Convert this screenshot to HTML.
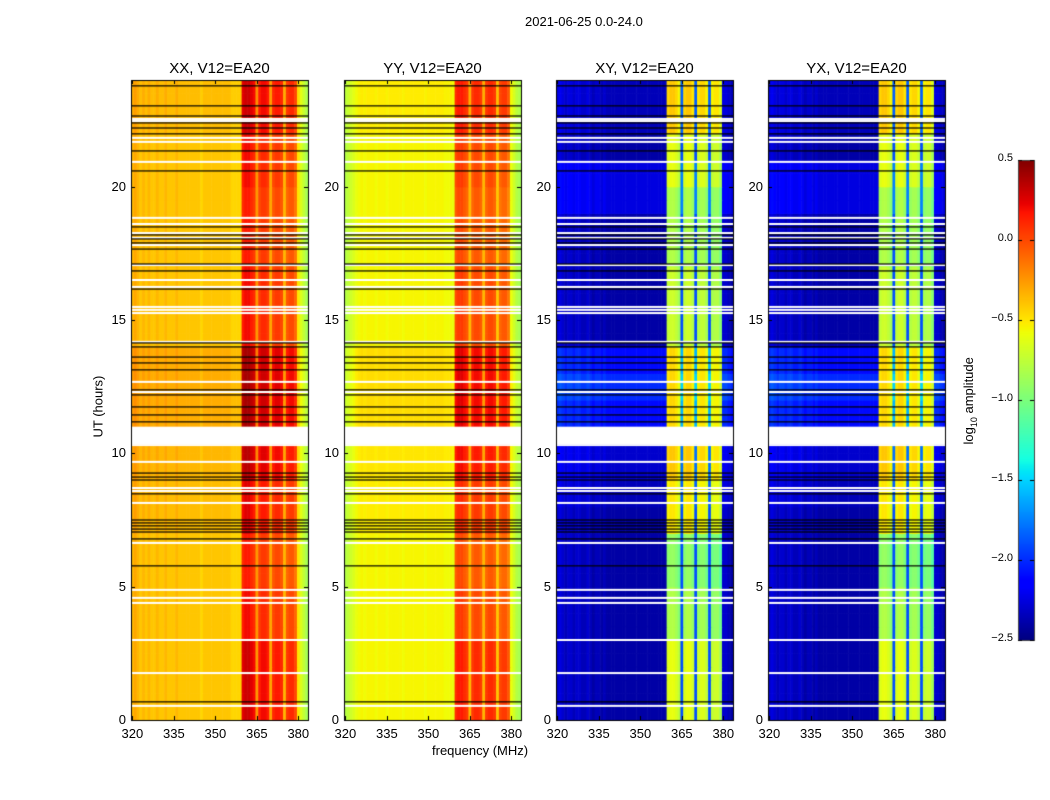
<!DOCTYPE html>
<html><head><meta charset="utf-8">
<style>
body{margin:0;background:#fff;}
#fig{position:relative;width:1050px;height:800px;background:#fff;font-family:"Liberation Sans","DejaVu Sans",sans-serif;color:#000;overflow:hidden;}
.t{position:absolute;white-space:nowrap;font-size:13px;}
canvas{position:absolute;}
</style></head>
<body>
<div id="fig">
<div class="t" style="left:525px;top:14px;">2021-06-25 0.0-24.0</div>
<canvas id="cv" width="1050" height="800" style="left:0;top:0"></canvas>
<div class="t" style="left:432px;top:743px;">frequency (MHz)</div>
<div class="t" style="left:60px;top:392px;transform:rotate(-90deg);transform-origin:center;width:76px;">UT (hours)</div>
<div class="t" style="left:920px;top:392px;transform:rotate(-90deg);width:100px;text-align:center;">log<sub style="font-size:9px">10</sub> amplitude</div>
</div>
<script>
const freqs=[];for(let f=320;f<=383;f++)freqs.push(f);
const subbands=[[360,364],[366,369],[371,374],[376,379]];
const profXX=[-0.35,-0.3,-0.35,-0.4,-0.35,-0.4,-0.35,-0.4,-0.4,-0.35,-0.4,-0.4,-0.35,-0.4,-0.4,-0.4,-0.35,-0.4,-0.4,-0.4,-0.4,-0.4,-0.4,-0.4,-0.4,-0.45,-0.4,-0.4,-0.4,-0.4,-0.4,-0.4,-0.4,-0.4,-0.4,-0.4,-0.45,-0.45,-0.45,-0.45,0.15,0.2,0.2,0.15,0.1,-0.25,0.05,0.1,0.1,0.05,-0.3,0.0,0.05,0.05,0.0,-0.35,-0.05,0.0,0.0,-0.1,-0.5,-0.65,-0.75,-0.85];
const profYY=[-0.8,-0.75,-0.7,-0.65,-0.6,-0.57,-0.55,-0.57,-0.55,-0.55,-0.55,-0.57,-0.55,-0.55,-0.55,-0.57,-0.55,-0.55,-0.55,-0.55,-0.55,-0.57,-0.55,-0.55,-0.55,-0.55,-0.55,-0.55,-0.55,-0.57,-0.55,-0.55,-0.55,-0.55,-0.55,-0.55,-0.57,-0.57,-0.57,-0.6,0.0,0.05,0.05,0.0,-0.05,-0.35,-0.05,0.0,0.0,-0.05,-0.35,-0.05,0.0,0.0,-0.05,-0.4,-0.1,-0.05,-0.05,-0.15,-0.6,-0.7,-0.8,-0.85];
const profXY=[-2.3,-2.25,-2.3,-2.35,-2.3,-2.3,-2.35,-2.3,-2.3,-2.35,-2.35,-2.3,-2.35,-2.4,-2.35,-2.35,-2.4,-2.35,-2.4,-2.4,-2.4,-2.4,-2.4,-2.4,-2.4,-2.4,-2.4,-2.4,-2.4,-2.4,-2.4,-2.4,-2.4,-2.4,-2.4,-2.4,-2.4,-2.4,-2.4,-2.4,-0.85,-0.8,-0.8,-0.85,-0.95,-1.9,-0.85,-0.8,-0.8,-0.9,-1.9,-0.9,-0.85,-0.85,-0.95,-1.9,-0.95,-0.9,-0.9,-1.05,-2.3,-2.3,-2.35,-2.4];
const profYX=[-2.3,-2.25,-2.3,-2.35,-2.3,-2.3,-2.35,-2.3,-2.3,-2.35,-2.35,-2.3,-2.35,-2.4,-2.35,-2.35,-2.4,-2.35,-2.4,-2.4,-2.4,-2.4,-2.4,-2.4,-2.4,-2.4,-2.4,-2.4,-2.4,-2.4,-2.4,-2.4,-2.4,-2.4,-2.4,-2.4,-2.4,-2.4,-2.4,-2.4,-0.85,-0.8,-0.8,-0.85,-0.95,-1.9,-0.85,-0.8,-0.8,-0.9,-1.9,-0.9,-0.85,-0.85,-0.95,-1.9,-0.95,-0.9,-0.9,-1.05,-2.3,-2.3,-2.35,-2.4];
const coSub=[0.1,0.1,0.1,0.1,0.1,0.1,0,0,0,0,-0.05,-0.05,-0.05,-0.05,0.05,0.05,0.05,0.05,0.15,0.15,0.15,0.15,0.2,0.2,0.2,0.2,0.2,0.2,0,0,0,0,0,0,-0.05,-0.05,-0.05,-0.05,-0.05,-0.05,0,0,0,0,0.1,0.1,0.1,0.1];
const coCont=[0,0,0,0,0,0,0,0,0,0,0,0,0,0,0.03,0.03,0.03,0.03,0.05,0.05,0.05,0.05,0.08,0.08,0.08,0.08,0.08,0.08,0,0,0,0,0,0,0,0,0,0,0,0,0,0,0,0,0.03,0.03,0.03,0.03];
const xSub=[0.2,0.2,0.2,0.2,0.2,0.2,0,0,0,0,-0.1,-0.1,-0.1,-0.1,0.3,0.3,0.3,0.3,0.4,0.4,0.4,0.4,0.35,0.35,0.35,0.35,0.35,0.35,0.1,0.1,0.1,0.1,0.1,0.1,0,0,0,0,0,0,0.2,0.2,0.2,0.2,0.4,0.4,0.4,0.4];
const xCont=[0,0,0,0,0,0,0,0,0,0,0,0,0,0,0,0,0.05,0.05,0.1,0.1,0.1,0.1,0.3,0.3,0.4,0.4,0.3,0.3,0,0,0,0,0,0,0,0,0,0,0.15,0.15,0.15,0.15,0,0,0.05,0.05,0.05,0.05];
const flagBlock=[10.35,11.0];
const blackLines=[23.78,23.03,22.65,22.39,22.2,21.98,21.34,20.59,18.49,18.19,18.04,17.89,17.66,17.1,16.84,16.16,14.14,13.99,13.61,13.39,13.13,12.38,12.19,11.74,11.44,11.18,9.26,9.11,9.0,8.48,7.5,7.39,7.28,7.16,7.05,6.79,5.78,0.68];
const whiteLines=[22.54,22.46,21.83,21.68,20.93,18.83,18.6,18.26,18.08,17.81,17.06,16.5,16.24,15.49,15.38,15.26,14.18,12.68,12.3,10.31,9.68,8.7,8.59,8.14,6.64,4.88,4.58,4.39,3.0,1.76,0.53];
const xTicks=[320,335,350,365,380];
const yTicks=[0,5,10,15,20];
const cbTicks=[0.5,0.0,-0.5,-1.0,-1.5,-2.0,-2.5];
const panels=[
 {name:"XX, V12=EA20",left:131,prof:profXX,ts:coSub,tc:coCont},
 {name:"YY, V12=EA20",left:344,prof:profYY,ts:coSub,tc:coCont},
 {name:"XY, V12=EA20",left:556,prof:profXY,ts:xSub,tc:xCont},
 {name:"YX, V12=EA20",left:768,prof:profYX,ts:xSub,tc:xCont}];
const W=177,TOP=80,H=640,VMIN=-2.5,VMAX=0.5;
const xs=f=>(f-320)*W/64, ys=h=>TOP+H-h*H/24;
function interp(pts,v){for(let i=1;i<pts.length;i++){if(v<=pts[i][0]){const a=pts[i-1],b=pts[i];return a[1]+(b[1]-a[1])*(v-a[0])/(b[0]-a[0]);}}return pts[pts.length-1][1];}
function jet(val){let v=(val-VMIN)/(VMAX-VMIN);v=Math.max(0,Math.min(1,v));
 const r=interp([[0,0],[0.35,0],[0.66,1],[0.89,1],[1,0.5]],v),g=interp([[0,0],[0.125,0],[0.375,1],[0.64,1],[0.91,0],[1,0]],v),b=interp([[0,0.5],[0.11,1],[0.34,1],[0.65,0],[1,0]],v);
 return `rgb(${Math.round(r*255)},${Math.round(g*255)},${Math.round(b*255)})`;}
const inSub=f=>subbands.some(s=>f>=s[0]&&f<=s[1]);
const cv=document.getElementById('cv'),ctx=cv.getContext('2d');
const fig=document.getElementById('fig');
function label(txt,x,y,name,align){const d=document.createElement('div');d.className='t';d.textContent=txt;
 d.style.top=(y-8)+'px';
 if(align==='right'){d.style.right=(1050-x)+'px';}else if(align==='center'){d.style.left=(x-30)+'px';d.style.width='60px';d.style.textAlign='center';}else d.style.left=x+'px';
 
 
 fig.appendChild(d);return d;}
panels.forEach((p,pi)=>{
 const L=p.left;
 for(let ti=0;ti<48;ti++){
  const y0=ys((ti+1)*0.5),y1=ys(ti*0.5);
  freqs.forEach((f,ci)=>{
   const v=p.prof[ci]+(inSub(f)?p.ts[ti]:p.tc[ti]);
   ctx.fillStyle=jet(v);
   const x0=L+xs(f);ctx.fillRect(x0,y0,W/64+0.6,y1-y0+0.6);
  });
 }
 ctx.fillStyle='#fff';ctx.fillRect(L,ys(flagBlock[1]),W,ys(flagBlock[0])-ys(flagBlock[1]));
 whiteLines.forEach(h=>{ctx.fillRect(L,ys(h)-1,W,2);});
 ctx.fillStyle='#000';blackLines.forEach(h=>{ctx.fillRect(L,ys(h)-0.6,W,1.2);});
 ctx.strokeStyle='#000';ctx.lineWidth=1;ctx.strokeRect(L+0.5,TOP+0.5,W,H);
 xTicks.forEach(t=>{const x=Math.round(L+xs(t+0.5))+0.5;ctx.beginPath();ctx.moveTo(x,TOP+H);ctx.lineTo(x,TOP+H-4);ctx.moveTo(x,TOP);ctx.lineTo(x,TOP+4);ctx.stroke();
  label(String(t),L+xs(t+0.5),TOP+H+14,'x-tick-'+t,'center');});
 yTicks.forEach(t=>{const y=Math.round(ys(t))+0.5;ctx.beginPath();ctx.moveTo(L,y);ctx.lineTo(L+4,y);ctx.moveTo(L+W,y);ctx.lineTo(L+W-4,y);ctx.stroke();
  label(String(t),L-5,ys(t),'y-tick-'+t,'right');});
 const tt=label(p.name,L+W/2,TOP-12,'panel-title-'+pi,'center');tt.style.fontSize='15px';tt.style.width='160px';tt.style.left=(L+W/2-80)+'px';
});
const CBX=1018,CBW=16,CBT=160,CBH=480;
for(let i=0;i<CBH;i++){ctx.fillStyle=jet(VMAX-(i+0.5)*(VMAX-VMIN)/CBH);ctx.fillRect(CBX,CBT+i,CBW,1);}
ctx.strokeStyle='#444';ctx.strokeRect(CBX+0.5,CBT+0.5,CBW,CBH);ctx.strokeStyle='#000';
cbTicks.forEach(t=>{const y=Math.round(CBT+(VMAX-t)/(VMAX-VMIN)*CBH)+0.5;ctx.beginPath();ctx.moveTo(CBX,y);ctx.lineTo(CBX+4,y);ctx.moveTo(CBX+CBW-4,y);ctx.lineTo(CBX+CBW,y);ctx.stroke();
 const d=label(t.toFixed(1).replace('-','\u2212'),1013,y-1,'colorbar-tick','right');d.style.fontSize='11px';});
</script>
</body></html>
